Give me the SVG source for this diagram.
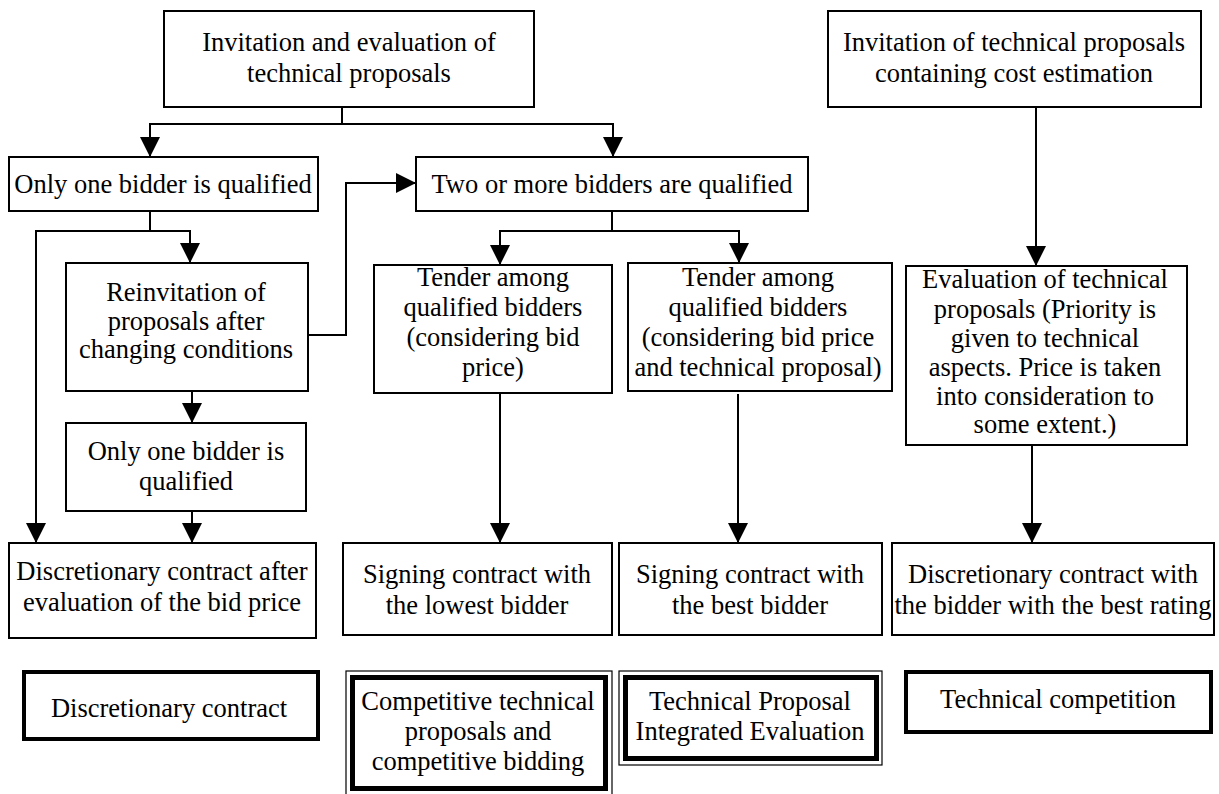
<svg xmlns="http://www.w3.org/2000/svg" width="1219" height="794" viewBox="0 0 1219 794">
<style>
.box{fill:#fff;stroke:#000;stroke-width:2}
.thick{fill:#fff;stroke:#000;stroke-width:4}
.thin{fill:none;stroke:#000;stroke-width:1.2}
.ink{fill:none;stroke:#000;stroke-width:5}
.c{fill:none;stroke:#000;stroke-width:2}
text{font-family:"Liberation Serif","Times New Roman",serif;font-size:26.5px;fill:#000;text-anchor:middle}
</style>
<defs>
<marker id="ah" viewBox="0 0 20 20" refX="20" refY="10" markerWidth="20" markerHeight="20" markerUnits="userSpaceOnUse" orient="auto">
<path d="M0,0 L20,10 L0,20 z" fill="#000"/>
</marker>
</defs>
<rect width="1219" height="794" fill="#fff"/>
<g id="connectors">
<path class="c" d="M342,107 V124 H150 V157" marker-end="url(#ah)"/>
<path class="c" d="M342,124 H613 V157" marker-end="url(#ah)"/>
<path class="c" d="M150,211 V231 H190 V263" marker-end="url(#ah)"/>
<path class="c" d="M150,231 H36 V543" marker-end="url(#ah)"/>
<path class="c" d="M303,335 H346 V183 H416" marker-end="url(#ah)"/>
<path class="c" d="M192,391 V423" marker-end="url(#ah)"/>
<path class="c" d="M192,511 V543" marker-end="url(#ah)"/>
<path class="c" d="M612,211 V231 H500 V265" marker-end="url(#ah)"/>
<path class="c" d="M612,231 H739 V263" marker-end="url(#ah)"/>
<path class="c" d="M500,393 V543" marker-end="url(#ah)"/>
<path class="c" d="M738,394 V543" marker-end="url(#ah)"/>
<path class="c" d="M1036,107 V266" marker-end="url(#ah)"/>
<path class="c" d="M1032,445 V543" marker-end="url(#ah)"/>
</g>
<g id="n_invite">
<rect class="box" x="164" y="11" width="370" height="96"/>
<text x="349" y="51">Invitation and evaluation of</text>
<text x="349" y="82">technical proposals</text>
</g>
<g id="n_invite_cost">
<rect class="box" x="828" y="11" width="373" height="96"/>
<text x="1014" y="51">Invitation of technical proposals</text>
<text x="1014" y="82">containing cost estimation</text>
</g>
<g id="n_one">
<rect class="box" x="9" y="157" width="309" height="54"/>
<text x="163" y="193">Only one bidder is qualified</text>
</g>
<g id="n_two">
<rect class="box" x="416" y="157" width="392" height="54"/>
<text x="612" y="193">Two or more bidders are qualified</text>
</g>
<g id="n_reinvite">
<rect class="box" x="66" y="263" width="242" height="128"/>
<text x="186" y="301">Reinvitation of</text>
<text x="186" y="330">proposals after</text>
<text x="186" y="358">changing conditions</text>
</g>
<g id="n_one2">
<rect class="box" x="66" y="423" width="240" height="88"/>
<text x="186" y="460">Only one bidder is</text>
<text x="186" y="490">qualified</text>
</g>
<g id="n_tender1">
<rect class="box" x="374" y="265" width="238" height="128"/>
<text x="493" y="286">Tender among</text>
<text x="493" y="316">qualified bidders</text>
<text x="493" y="346">(considering bid</text>
<text x="493" y="376">price)</text>
</g>
<g id="n_tender2">
<rect class="box" x="628" y="263" width="264" height="128"/>
<text x="758" y="286">Tender among</text>
<text x="758" y="316">qualified bidders</text>
<text x="758" y="346">(considering bid price</text>
<text x="758" y="376">and technical proposal)</text>
</g>
<g id="n_eval">
<rect class="box" x="906" y="266" width="281" height="179"/>
<text x="1045" y="288">Evaluation of technical</text>
<text x="1045" y="318">proposals (Priority is</text>
<text x="1045" y="347">given to technical</text>
<text x="1045" y="376">aspects. Price is taken</text>
<text x="1045" y="405">into consideration to</text>
<text x="1045" y="433">some extent.)</text>
</g>
<g id="n_disc_after">
<rect class="box" x="9" y="543" width="307" height="95"/>
<text x="162" y="580">Discretionary contract after</text>
<text x="162" y="611">evaluation of the bid price</text>
</g>
<g id="n_sign_low">
<rect class="box" x="343" y="543" width="269" height="92"/>
<text x="477" y="583">Signing contract with</text>
<text x="477" y="614">the lowest bidder</text>
</g>
<g id="n_sign_best">
<rect class="box" x="619" y="543" width="263" height="92"/>
<text x="750" y="583">Signing contract with</text>
<text x="750" y="614">the best bidder</text>
</g>
<g id="n_disc_best">
<rect class="box" x="892" y="543" width="322" height="92"/>
<text x="1053" y="583">Discretionary contract with</text>
<text x="1053" y="614">the bidder with the best rating</text>
</g>
<g id="c_disc">
<rect class="thick" x="24" y="672" width="294" height="67"/>
<text x="169" y="717">Discretionary contract</text>
</g>
<g id="c_comp">
<rect class="thin" x="346" y="671" width="266" height="126"/>
<rect class="ink" x="352.5" y="677.5" width="253" height="111"/>
<text x="478" y="710">Competitive technical</text>
<text x="478" y="740">proposals and</text>
<text x="478" y="770">competitive bidding</text>
</g>
<g id="c_tpie">
<rect class="thin" x="619" y="671" width="263" height="94"/>
<rect class="ink" x="625.5" y="677.5" width="251" height="81"/>
<text x="750" y="710">Technical Proposal</text>
<text x="750" y="740">Integrated Evaluation</text>
</g>
<g id="c_tech">
<rect class="thick" x="906" y="672" width="305" height="60"/>
<text x="1058" y="708">Technical competition</text>
</g>
</svg>
